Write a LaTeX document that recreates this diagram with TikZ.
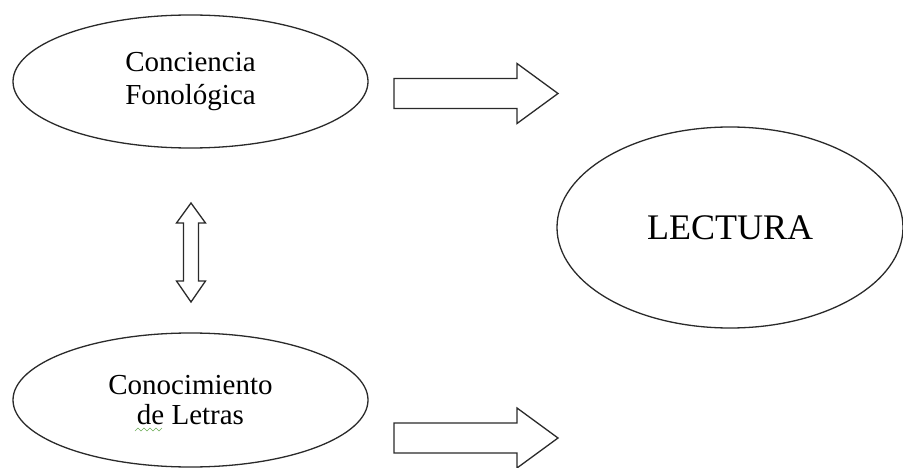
\documentclass[tikz,border=0pt]{standalone}
\usepackage{fontspec}
\setmainfont{Liberation Serif}
\usetikzlibrary{shapes.geometric}
\definecolor{ink}{HTML}{2A2A2A}
\definecolor{squig}{HTML}{6FAE5A}
\tikzset{
  oval/.style={ellipse, draw=ink, line width=1.3pt, inner sep=0pt, align=center, text=black},
  blockarrow/.style={draw=ink, line width=1.3pt, fill=white, line join=miter},
  pics/rarrow/.style={code={
    \draw[blockarrow] (0,-15) -- (123,-15) -- (123,-30) -- (164,0) -- (123,30) -- (123,15) -- (0,15) -- cycle;
  }},
  pics/vdarrow/.style={code={
    \draw[blockarrow] (0,0) -- (14.5,20) -- (7.5,20) -- (7.5,78) -- (14.5,78) -- (0,99)
      -- (-14.5,78) -- (-7.5,78) -- (-7.5,20) -- (-14.5,20) -- cycle;
  }}
}
\begin{document}
\begin{tikzpicture}[x=1pt,y=-1pt]
\useasboundingbox (0,0) rectangle (903,468);
\fill[white] (0,0) rectangle (903,468);

\node[oval, minimum width=355pt, minimum height=133pt,
      font=\fontsize{29}{33}\selectfont] (cf) at (190.5,81.5)
      {Conciencia\\Fonológica};
\node[oval, minimum width=355pt, minimum height=134pt,
      font=\fontsize{29}{30}\selectfont] (cl) at (190.5,400)
      {Conocimiento\\de Letras};
\node[oval, minimum width=346pt, minimum height=201pt,
      font=\fontsize{36}{40}\selectfont] (lec) at (730,227.5)
      {LECTURA};

\pic at (394,93.5) {rarrow};
\pic at (394,438) {rarrow};
\pic at (191,203) {vdarrow};

\draw[squig, line width=0.6pt] (135,431) -- (138,428) -- (141,431) -- (144,428) -- (147,431)
  -- (150,428) -- (153,431) -- (156,428) -- (159,431) -- (162,428);
\end{tikzpicture}
\end{document}
